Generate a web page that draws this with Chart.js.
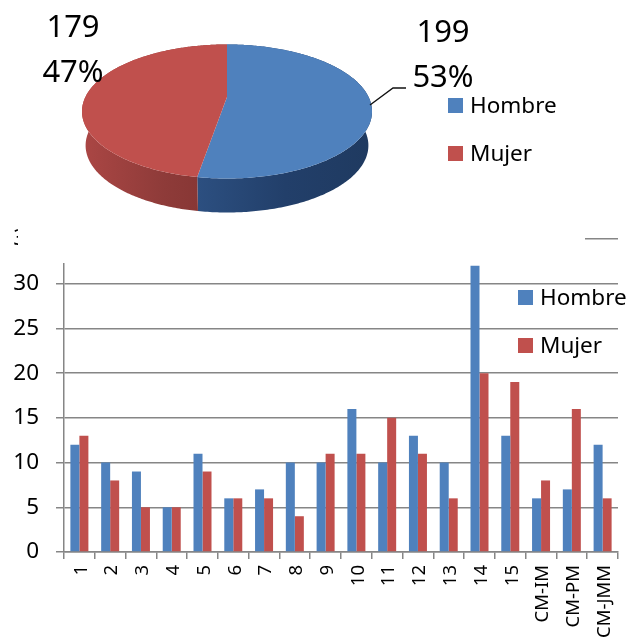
<!DOCTYPE html>
<html><head><meta charset="utf-8">
<script src="https://cdn.jsdelivr.net/npm/chart.js@4"></script>
<style>
html,body{margin:0;padding:0;background:#fff;overflow:hidden}
#wrap{position:relative;width:631px;height:641px;overflow:hidden}
#pie{position:absolute;left:0;top:0}
#bars{position:absolute;left:0;top:225px}
#mask{position:absolute;left:18px;top:225px;width:567px;height:38px;background:#fff}
</style></head><body>
<div id="wrap">
<canvas id="pie" width="631" height="225" style="width:631px;height:225px"></canvas>
<canvas id="bars" width="631" height="416" style="width:631px;height:416px"></canvas>
<div id="mask"></div>
</div>
<script>
const seriesNames = ['Hombre','Mujer'];
const pieValues = [199,179];
const categories = ['1','2','3','4','5','6','7','8','9','10','11','12','13','14','15','CM-IM','CM-PM','CM-JMM'];
const hombre = [12,10,9,5,11,6,7,10,10,16,10,13,10,32,13,6,7,12];
const mujer = [13,8,5,5,9,6,6,4,11,11,15,11,6,20,19,8,16,6];
const yMax = 35, yStep = 5;

const BLUE='#4f81bd', RED='#c0504d', FONT='"Noto Sans", sans-serif', INK='#000';

function legendPlugin(x, ys){
  return {id:'sideLegend', afterDraw(chart){
    const c=chart.ctx; c.save();
    c.font='22.5px '+FONT; c.textBaseline='middle'; c.textAlign='left';
    seriesNames.forEach((n,i)=>{
      c.fillStyle=[BLUE,RED][i]; c.fillRect(x,ys[i]-7.5,15,15);
      c.fillStyle=INK; c.fillText(n,x+22,ys[i]+1);
    });
    c.restore();
  }};
}

// Projects each arc of the pie onto a tilted disc with a side wall
const P={cx:227,cy:97,R:141.6,A:63.9,k:-0.216,depth:34,shrink:0.975};
function proj(a){const u=Math.cos(a),v=Math.sin(a),d=1+P.k*v;return [P.cx+P.R*u/d,P.cy+P.A*v/d];}
function low(p){return [P.cx+(p[0]-P.cx)*P.shrink,p[1]+P.depth];}
function ring(arc){
  const {startAngle:s,endAngle:e}=arc,pts=[],n=240;
  for(let i=0;i<=n;i++)pts.push(proj(s+(e-s)*i/n));
  return pts;
}
const tiltedPie={id:'tiltedPie',beforeDatasetsDraw(chart){
  const c=chart.ctx, arcs=chart.getDatasetMeta(0).data;
  const walls=[[[0,'#2c4f80'],[0.5,'#223f6a'],[1,'#1f3a60']],[[0,'#aa4644'],[0.7,'#8e3b39'],[1,'#883735']]];
  const ranges=[[198,372],[85,198]];
  arcs.forEach((arc,i)=>{
    const pts=ring(arc),g=c.createLinearGradient(ranges[i][0],0,ranges[i][1],0);
    walls[i].forEach(w=>g.addColorStop(w[0],w[1]));
    c.beginPath();
    pts.forEach((p,j)=>j?c.lineTo(p[0],p[1]):c.moveTo(p[0],p[1]));
    pts.slice().reverse().forEach(p=>{const q=low(p);c.lineTo(q[0],q[1]);});
    c.closePath();c.fillStyle=g;c.fill();
  });
  arcs.forEach((arc,i)=>{
    const pts=ring(arc);
    c.beginPath();c.moveTo(P.cx,P.cy);
    pts.forEach(p=>c.lineTo(p[0],p[1]));
    c.closePath();c.fillStyle=[BLUE,RED][i];c.fill();
  });
  return false;
},afterDraw(chart){
  const c=chart.ctx,total=pieValues.reduce((a,b)=>a+b,0);
  c.save();
  c.strokeStyle='#111';c.lineWidth=1.4;
  c.beginPath();c.moveTo(370,105);c.lineTo(393,88);c.lineTo(406,88);c.stroke();
  c.font='31px '+FONT;c.fillStyle=INK;c.textAlign='center';c.textBaseline='alphabetic';
  const pos=[[443,42,87],[73,37,82]];
  pieValues.forEach((v,i)=>{
    c.fillText(String(v),pos[i][0],pos[i][1]);
    c.fillText(Math.round(v/total*100)+'%',pos[i][0],pos[i][2]);
  });
  c.restore();
}};

new Chart(document.getElementById('pie'),{
  type:'pie',
  data:{labels:seriesNames,datasets:[{data:pieValues,backgroundColor:[BLUE,RED],borderWidth:0}]},
  options:{responsive:false,animation:false,events:[],
    plugins:{legend:{display:false},tooltip:{enabled:false}}},
  plugins:[tiltedPie,legendPlugin(448,[105.5,153.5])]
});

const axisGrey='#868686';
function fixBox(s,w,h){
  if(w)s.width=w; if(h)s.height=h;
  s.paddingTop=s.paddingBottom=s.paddingLeft=s.paddingRight=0;
}
new Chart(document.getElementById('bars'),{
  type:'bar',
  data:{labels:categories,datasets:[
    {label:seriesNames[0],data:hombre,backgroundColor:BLUE,borderWidth:0},
    {label:seriesNames[1],data:mujer,backgroundColor:RED,borderWidth:0}
  ]},
  options:{responsive:false,animation:false,events:[],
    layout:{padding:{top:14,right:13,left:0,bottom:0}},
    datasets:{bar:{categoryPercentage:0.585,barPercentage:1}},
    plugins:{legend:{display:false},tooltip:{enabled:false}},
    scales:{
      x:{afterFit(s){fixBox(s,0,89);},
        grid:{drawOnChartArea:false,drawTicks:true,tickLength:7,color:axisGrey,lineWidth:1.5},
        border:{color:axisGrey,width:1.5},
        ticks:{autoSkip:false,minRotation:90,maxRotation:90,padding:6,labelOffset:2,color:INK,font:{family:'"Noto Sans"',size:18.5}}},
      y:{min:0,max:yMax,afterFit(s){fixBox(s,64,0);},
        grid:{color:axisGrey,lineWidth:1.5,tickLength:8},
        border:{color:axisGrey,width:1.5},
        ticks:{stepSize:yStep,padding:17,color:INK,font:{family:'"Noto Sans"',size:22.5}}}
    }},
  plugins:[legendPlugin(518,[72.5,120.5])]
});
</script>
</body></html>
